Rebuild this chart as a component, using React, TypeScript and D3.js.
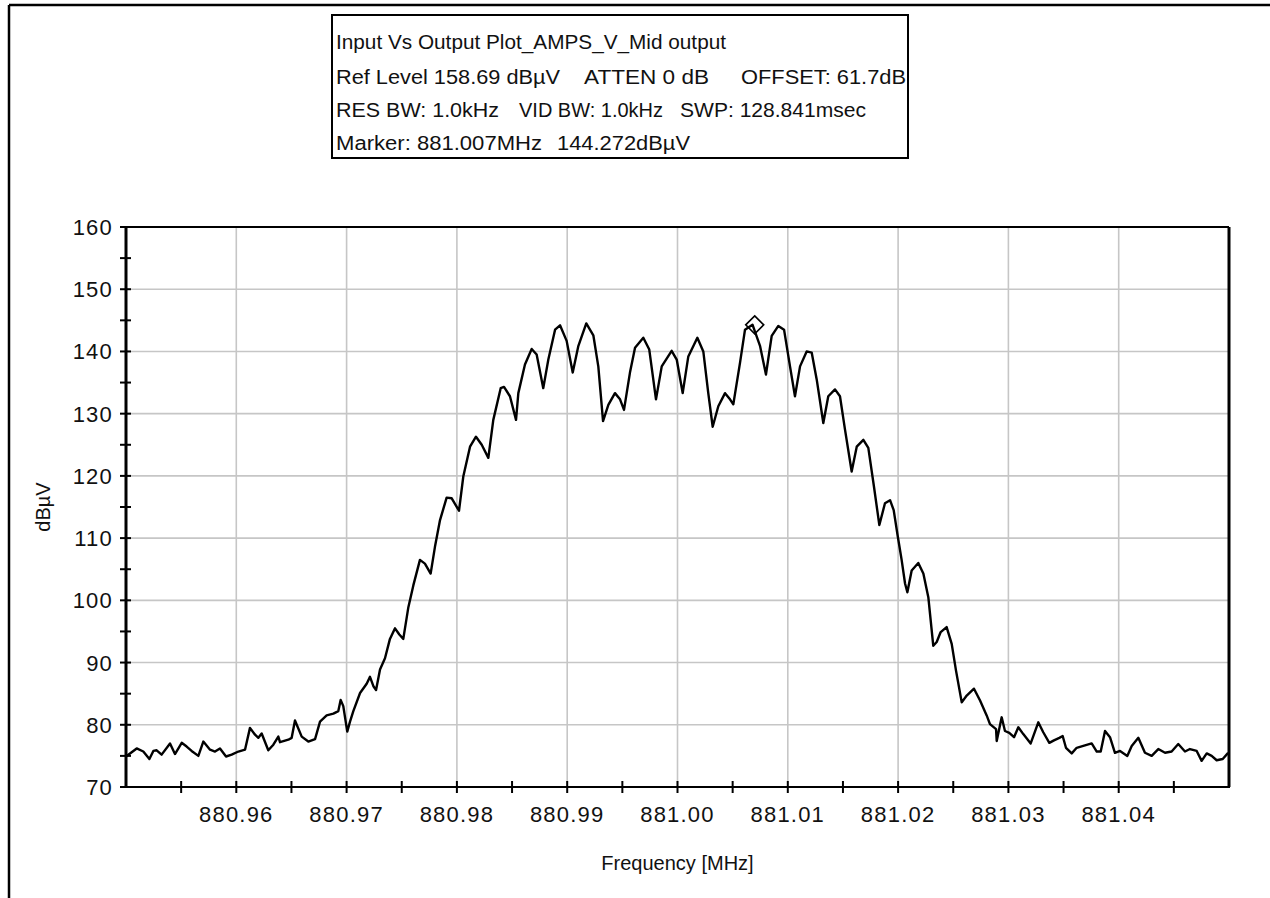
import React from 'react';
import * as d3 from 'd3';

// Measured trace: frequency (MHz) and level (dBµV)
const freqMHz = [
  880.95000, 880.95097, 880.95157, 880.95212, 880.95248, 880.95278, 880.95323, 880.95399, 880.95444, 880.95505,
  880.95550, 880.95595, 880.95656, 880.95701, 880.95762, 880.95807, 880.95852, 880.95907, 880.95958, 880.96019,
  880.96079, 880.96124, 880.96170, 880.96200, 880.96230, 880.96290, 880.96336, 880.96381, 880.96396, 880.96472,
  880.96502, 880.96532, 880.96593, 880.96653, 880.96714, 880.96759, 880.96819, 880.96880, 880.96925, 880.96946,
  880.96970, 880.97006, 880.97031, 880.97061, 880.97122, 880.97182, 880.97212, 880.97243, 880.97267, 880.97303,
  880.97348, 880.97393, 880.97439, 880.97478, 880.97514, 880.97560, 880.97605, 880.97665, 880.97710, 880.97762,
  880.97801, 880.97847, 880.97907, 880.97953, 880.98019, 880.98058, 880.98119, 880.98173, 880.98225, 880.98285,
  880.98330, 880.98397, 880.98427, 880.98481, 880.98536, 880.98557, 880.98617, 880.98678, 880.98723, 880.98783,
  880.98829, 880.98890, 880.98935, 880.98995, 880.99050, 880.99100, 880.99173, 880.99237, 880.99282, 880.99325,
  880.99373, 880.99433, 880.99479, 880.99515, 880.99569, 880.99615, 880.99690, 880.99744, 880.99805, 880.99857,
  880.99947, 880.99993, 881.00047, 881.00098, 881.00180, 881.00234, 881.00279, 881.00319, 881.00370, 881.00431,
  881.00476, 881.00506, 881.00567, 881.00612, 881.00680, 881.00748, 881.00802, 881.00854, 881.00914, 881.00966,
  881.01020, 881.01065, 881.01111, 881.01171, 881.01217, 881.01262, 881.01322, 881.01367, 881.01428, 881.01473,
  881.01519, 881.01579, 881.01625, 881.01685, 881.01730, 881.01781, 881.01830, 881.01881, 881.01927, 881.01960,
  881.01995, 881.02032, 881.02063, 881.02084, 881.02123, 881.02183, 881.02229, 881.02274, 881.02319, 881.02350,
  881.02386, 881.02440, 881.02486, 881.02525, 881.02577, 881.02622, 881.02688, 881.02743, 881.02803, 881.02833,
  881.02888, 881.02894, 881.02939, 881.02969, 881.03008, 881.03051, 881.03090, 881.03135, 881.03202, 881.03271,
  881.03316, 881.03371, 881.03413, 881.03462, 881.03492, 881.03522, 881.03574, 881.03619, 881.03679, 881.03755,
  881.03801, 881.03837, 881.03876, 881.03921, 881.03966, 881.04012, 881.04078, 881.04118, 881.04178, 881.04238,
  881.04299, 881.04359, 881.04420, 881.04480, 881.04540, 881.04601, 881.04646, 881.04707, 881.04752, 881.04798,
  881.04843, 881.04888, 881.04943, 881.04988, 881.05000,
];

const levelDbuV = [
  74.9, 76.2, 75.7, 74.5, 75.8, 75.9, 75.2, 77.0, 75.3, 77.1,
  76.5, 75.8, 75.0, 77.3, 76.0, 75.7, 76.2, 74.9, 75.2, 75.7,
  76.0, 79.5, 78.4, 77.9, 78.6, 75.9, 76.8, 78.1, 77.2, 77.6,
  77.9, 80.7, 78.1, 77.3, 77.7, 80.5, 81.5, 81.8, 82.2, 84.0,
  83.0, 78.9, 80.5, 82.2, 85.1, 86.6, 87.7, 86.2, 85.6, 88.9,
  90.7, 93.8, 95.5, 94.5, 93.8, 98.9, 102.4, 106.5, 105.9, 104.3,
  108.6, 112.9, 116.5, 116.4, 114.4, 119.9, 124.7, 126.3, 125.0, 122.9,
  129.0, 134.1, 134.3, 132.8, 129.0, 133.3, 137.9, 140.4, 139.5, 134.1,
  138.7, 143.5, 144.2, 141.7, 136.6, 140.8, 144.5, 142.6, 137.6, 128.8,
  131.4, 133.3, 132.3, 130.6, 136.6, 140.6, 142.2, 140.3, 132.3, 137.6,
  140.1, 138.7, 133.3, 139.2, 142.2, 140.0, 133.3, 127.9, 131.2, 133.3,
  132.3, 131.5, 138.2, 143.5, 144.3, 140.9, 136.3, 142.5, 144.1, 143.5,
  137.6, 132.8, 137.6, 140.0, 139.8, 135.5, 128.5, 132.8, 133.9, 132.8,
  127.4, 120.7, 124.7, 125.8, 124.5, 118.3, 112.1, 115.6, 116.1, 114.5,
  110.5, 106.5, 102.7, 101.3, 104.8, 106.0, 104.3, 100.5, 92.7, 93.3,
  94.9, 95.7, 93.0, 88.7, 83.6, 84.7, 85.8, 83.9, 81.5, 80.1,
  79.3, 77.4, 81.2, 79.0, 78.7, 78.0, 79.6, 78.5, 77.0, 80.4,
  78.8, 77.1, 77.5, 77.9, 78.2, 76.3, 75.4, 76.3, 76.6, 77.0,
  75.7, 75.7, 79.0, 78.0, 75.5, 75.8, 75.0, 76.6, 77.9, 75.5,
  75.0, 76.1, 75.5, 75.7, 76.9, 75.7, 76.1, 75.8, 74.2, 75.4,
  75.0, 74.3, 74.5, 75.4, 75.4,
];

const xTickValues = [880.96, 880.97, 880.98, 880.99, 881.0, 881.01, 881.02, 881.03, 881.04];
const xTickLabels = ['880.96', '880.97', '880.98', '880.99', '881.00', '881.01', '881.02', '881.03', '881.04'];
const yTickValues = [70, 80, 90, 100, 110, 120, 130, 140, 150, 160];

const markerFreq = 881.007;
const markerLevel = 144.272;

const titleLine1 = 'Input Vs Output Plot_AMPS_V_Mid output';
const titleLine2 = ['Ref Level 158.69 dBµV', 'ATTEN 0 dB', 'OFFSET: 61.7dB'];
const titleLine3 = ['RES BW: 1.0kHz', 'VID BW: 1.0kHz', 'SWP: 128.841msec'];
const titleLine4 = ['Marker: 881.007MHz', '144.272dBµV'];

const xLabel = 'Frequency [MHz]';
const yLabel = 'dBµV';

export default function App() {
  const W = 1270;
  const H = 898;
  const left = 126, right = 1229, top = 227, bottom = 787;
  const x = d3.scaleLinear().domain([880.95, 881.05]).range([left, right]);
  const y = d3.scaleLinear().domain([70, 160]).range([bottom, top]);

  const pts: [number, number][] = freqMHz.map((f, i) => [f, levelDbuV[i]]);
  const linePath = d3.line<[number, number]>().x(d => x(d[0])).y(d => y(d[1])).curve(d3.curveLinear)(pts) || '';

  const xMinor = d3.range(1, 20).map(i => 880.95 + i * 0.005);
  const yMinor = d3.range(1, 18).map(i => 70 + i * 5);

  const gridColor = '#c6c6c6';
  const font = "'Liberation Sans', Arial, sans-serif";
  const titleFont = "'Liberation Sans Narrow', 'Liberation Sans', Arial, sans-serif";

  const mx = x(markerFreq);
  const my = y(markerLevel);
  const md = 9;

  const boxSegs: { t: string; x: number; w: number; yb: number }[] = [
    { t: titleLine1, x: 336, w: 390, yb: 49 },
    { t: titleLine2[0], x: 336, w: 224, yb: 84 },
    { t: titleLine2[1], x: 584, w: 125, yb: 84 },
    { t: titleLine2[2], x: 741, w: 165, yb: 84 },
    { t: titleLine3[0], x: 336, w: 163, yb: 117 },
    { t: titleLine3[1], x: 519, w: 144, yb: 117 },
    { t: titleLine3[2], x: 680, w: 186, yb: 117 },
    { t: titleLine4[0], x: 336, w: 206, yb: 150 },
    { t: titleLine4[1], x: 557, w: 133, yb: 150 },
  ];

  return (
    <svg width={W} height={H} style={{ position: 'absolute', left: 0, top: 0, background: '#fff' }}>
      <rect x={0} y={0} width={W} height={H} fill="#fff" />
      {/* outer frame */}
      <line x1={9} y1={5} x2={W} y2={5} stroke="#000" strokeWidth={2.5} />
      <line x1={9} y1={5} x2={9} y2={H} stroke="#000" strokeWidth={2.5} />

      {/* title box */}
      <rect x={332} y={15} width={576} height={143} fill="#fff" stroke="#000" strokeWidth={2} />
      {boxSegs.map((s, i) => (
        <text key={i} x={s.x} y={s.yb} fontFamily={titleFont} fontSize={20} fill="#111"
          textLength={s.w} lengthAdjust="spacingAndGlyphs">{s.t}</text>
      ))}

      {/* grid */}
      {xTickValues.map((v, i) => (
        <line key={'gx' + i} x1={x(v)} x2={x(v)} y1={top} y2={bottom} stroke={gridColor} strokeWidth={1.6} />
      ))}
      {yTickValues.slice(1, -1).map((v, i) => (
        <line key={'gy' + i} x1={left} x2={right} y1={y(v)} y2={y(v)} stroke={gridColor} strokeWidth={1.6} />
      ))}

      {/* trace */}
      <path d={linePath} fill="none" stroke="#000" strokeWidth={2.4} strokeLinejoin="round" />

      {/* marker */}
      <path d={`M${mx},${my - md} L${mx + md},${my} L${mx},${my + md} L${mx - md},${my} Z`}
        fill="none" stroke="#000" strokeWidth={1.6} />

      {/* plot borders */}
      <line x1={left} x2={right} y1={top} y2={top} stroke="#000" strokeWidth={2} />
      <line x1={right} x2={right} y1={top} y2={bottom} stroke="#000" strokeWidth={3} />
      <line x1={left} x2={right + 1} y1={bottom} y2={bottom} stroke="#000" strokeWidth={2} />
      <line x1={left} x2={left} y1={top} y2={bottom + 1} stroke="#000" strokeWidth={3} />

      {/* y ticks */}
      {yTickValues.map((v, i) => (
        <line key={'yt' + i} x1={left - 6} x2={left + (i === 0 || i === yTickValues.length - 1 ? 0 : 5)} y1={y(v)} y2={y(v)} stroke="#000" strokeWidth={2} />
      ))}
      {yMinor.filter(v => v % 10 !== 0).map((v, i) => (
        <line key={'ym' + i} x1={left - 6} x2={left + 5} y1={y(v)} y2={y(v)} stroke="#000" strokeWidth={2} />
      ))}
      {yTickValues.map((v, i) => (
        <text key={'yl' + i} x={113} y={y(v) + 8} textAnchor="end" fontFamily={font} fontSize={22}
          letterSpacing={1.2} fill="#111">{String(v)}</text>
      ))}

      {/* x ticks */}
      {xMinor.map((v, i) => (
        <line key={'xt' + i} x1={x(v)} x2={x(v)} y1={bottom - 6} y2={bottom + 6} stroke="#000" strokeWidth={2} />
      ))}
      {xTickValues.map((v, i) => (
        <text key={'xl' + i} x={x(v)} y={bottom + 35} textAnchor="middle" fontFamily={font} fontSize={22}
          letterSpacing={1.2} fill="#111">{xTickLabels[i]}</text>
      ))}

      {/* axis titles */}
      <text x={(left + right) / 2} y={870} textAnchor="middle" fontFamily={font} fontSize={20} fill="#111">{xLabel}</text>
      <text transform={`translate(50, ${(top + bottom) / 2}) rotate(-90)`} textAnchor="middle" fontFamily={font}
        fontSize={20} fill="#111">{yLabel}</text>
    </svg>
  );
}
